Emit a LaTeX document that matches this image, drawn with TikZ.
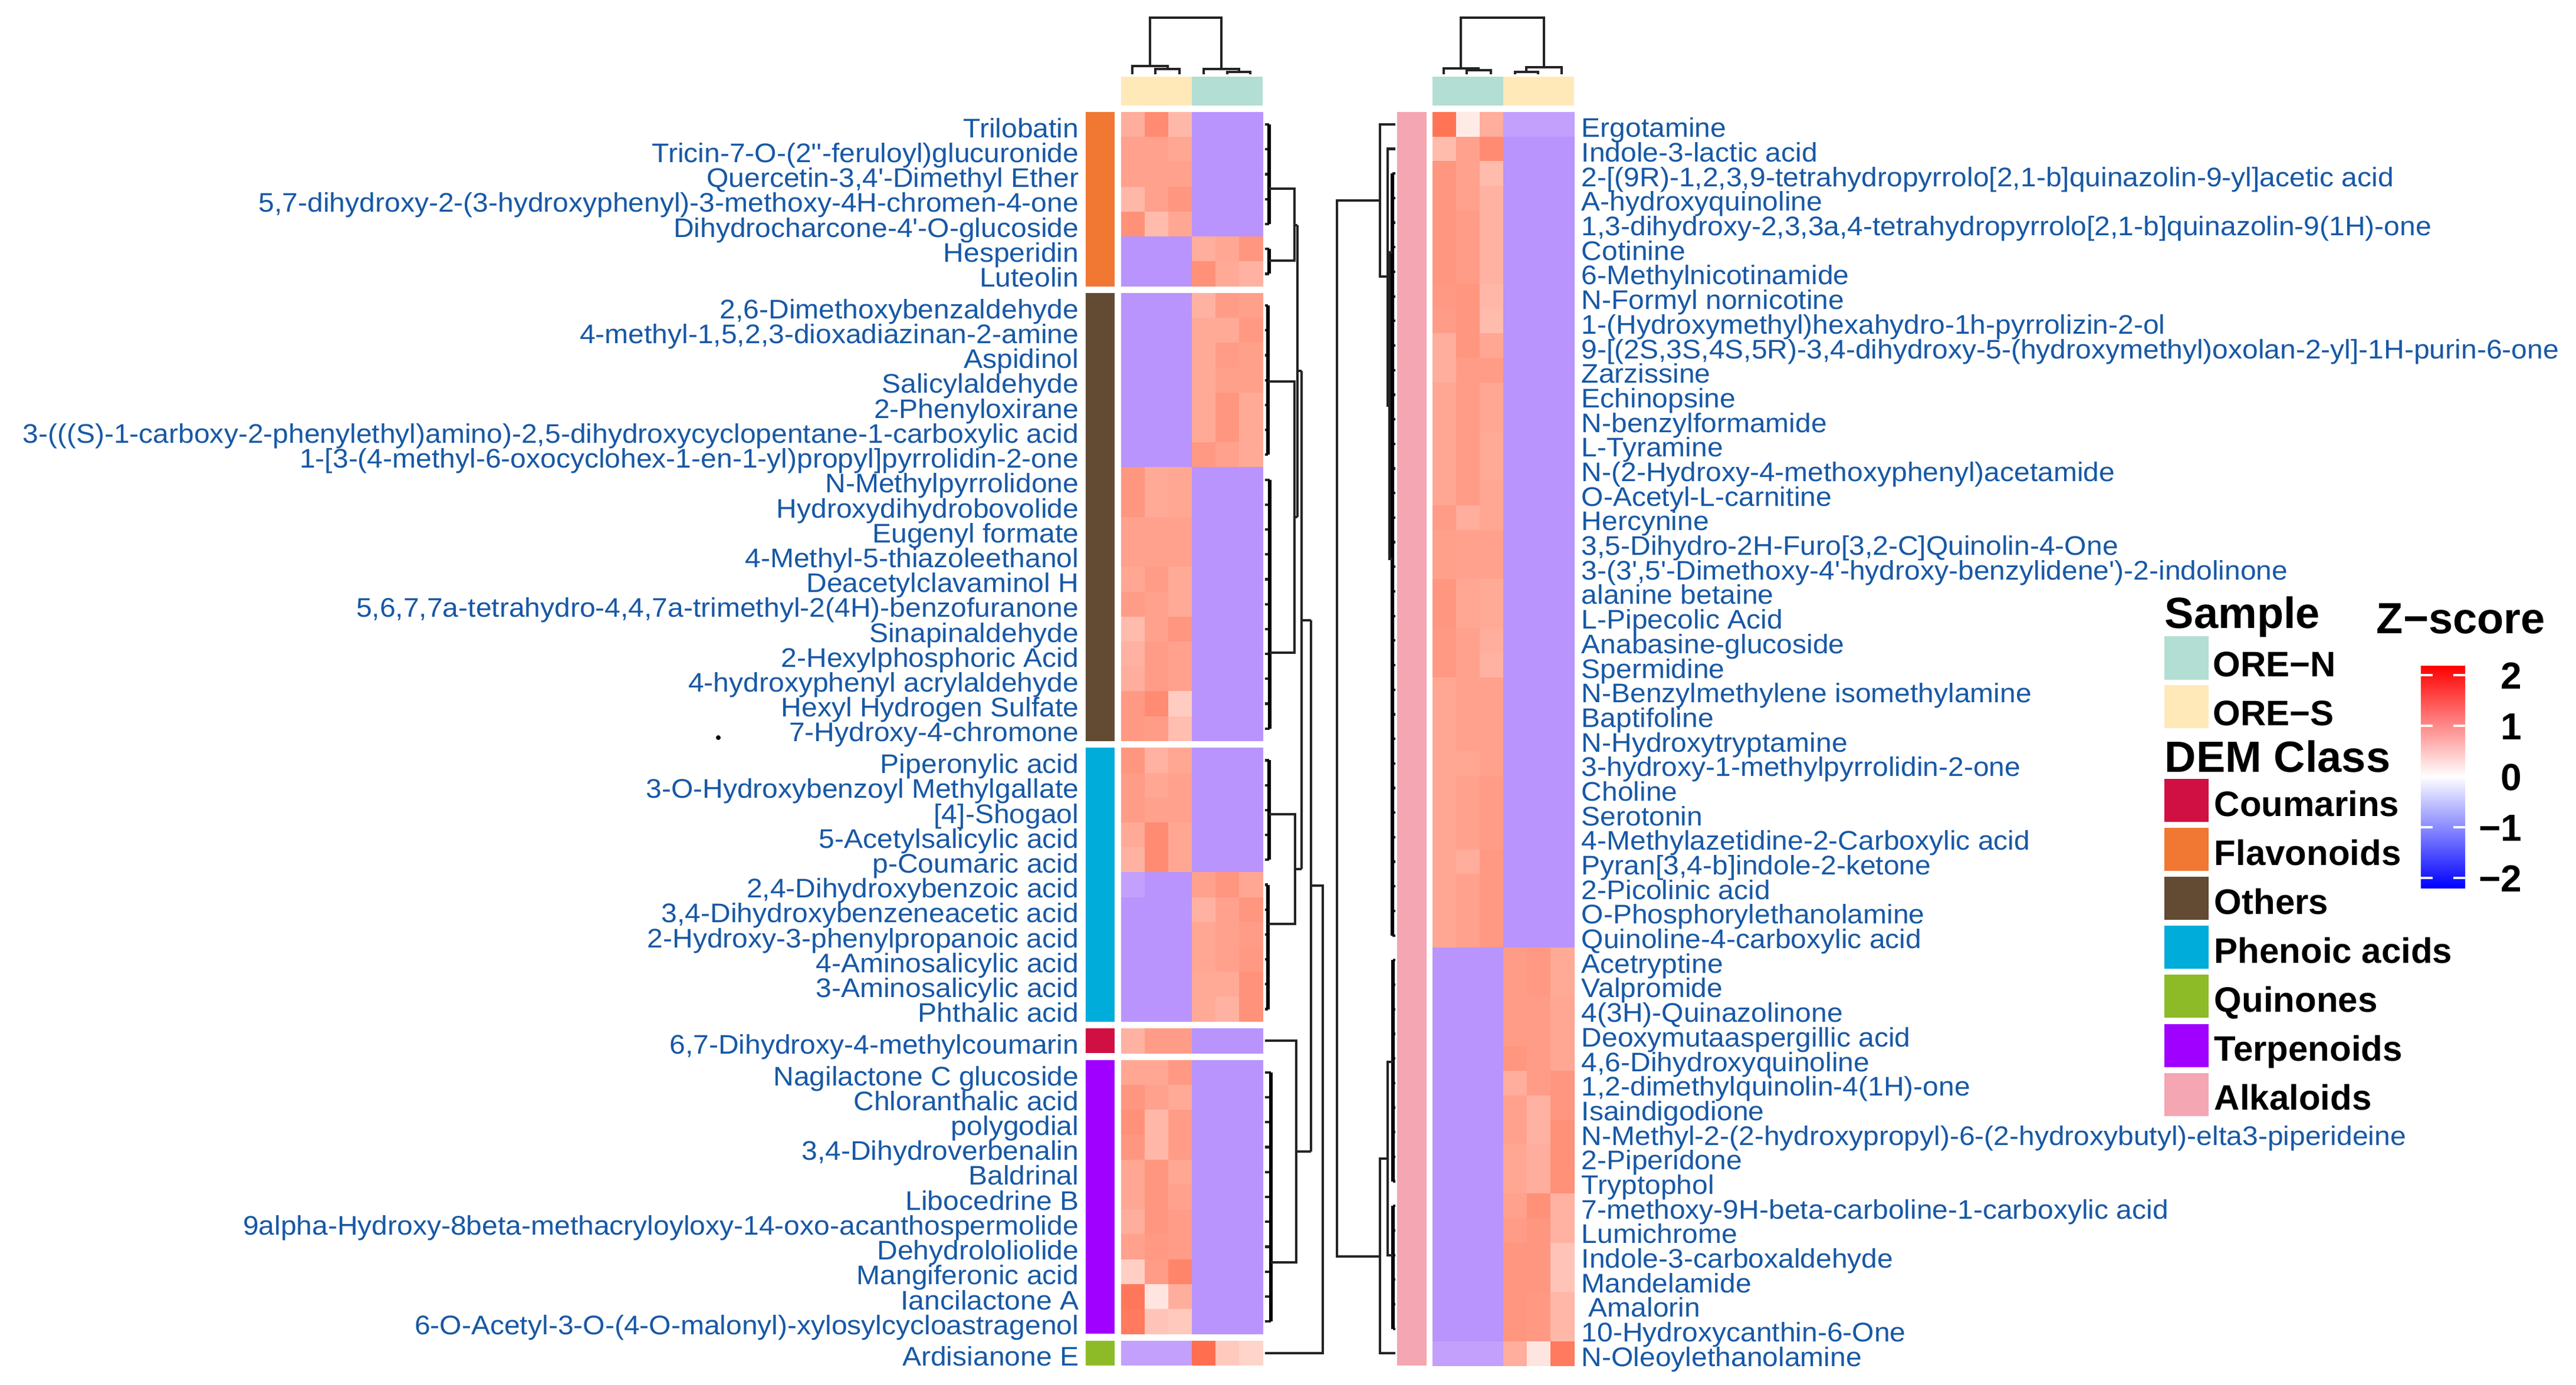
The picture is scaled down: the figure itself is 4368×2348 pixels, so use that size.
\documentclass[tikz,border=0pt]{standalone}
\usepackage{fontspec}
\setmainfont{Liberation Sans}
\newfontfamily\lf{Liberation Sans}
\newfontfamily\lfs{Liberation Sans}[FakeStretch=1.053]
\definecolor{hot}{RGB}{255,85,48}
\definecolor{lav}{RGB}{185,148,252}
\definecolor{lavl}{RGB}{194,160,252}
\definecolor{labc}{RGB}{23,88,165}
\definecolor{oren}{RGB}{179,222,211}
\definecolor{ores}{RGB}{255,233,185}
\definecolor{cCou}{RGB}{208,16,66}
\definecolor{cFla}{RGB}{240,120,51}
\definecolor{cOth}{RGB}{99,74,51}
\definecolor{cPhe}{RGB}{0,172,217}
\definecolor{cQui}{RGB}{141,187,40}
\definecolor{cTer}{RGB}{160,0,255}
\definecolor{cAlk}{RGB}{244,166,178}
\definecolor{dend}{RGB}{35,35,35}
\definecolor{zhi}{RGB}{255,128,98}
\definecolor{zlo}{RGB}{160,125,255}
\newcommand\hm[4]{%
  \ifdim #3pt<-1.5pt \fill[lavl] (#1,#2) rectangle ++(40.6,#4+0.6);%
  \else\ifdim #3pt<0pt \fill[lav] (#1,#2) rectangle ++(40.6,#4+0.6);%
  \else \fill[hot!#3!white] (#1,#2) rectangle ++(40.6,#4+0.6);\fi\fi}
% left group: #1 top y, #2 list
\newcommand\leftgroup[2]{%
  \foreach \lab/\a/\b/\c/\d/\e/\f [count=\i from 0] in {#2} {%
    \pgfmathsetmacro\yt{#1+\i*42.21}
    \hm{1901}{\yt}{\a}{42.21}\hm{1941}{\yt}{\b}{42.21}\hm{1981}{\yt}{\c}{42.21}
    \hm{2021}{\yt}{\d}{42.21}\hm{2061}{\yt}{\e}{42.21}\hm{2101}{\yt}{\f}{42.21}
    \node[lab, anchor=base east] (L\i) at (1830,\yt+43.3) {\lab};
  }}
% comb: #1 first centre, #2 count, #3 comb x, #4 leaf x, #5 spacing
\newcommand\comb[5]{%
  \foreach \q in {1,...,#2} {\draw[dg] (#4,{#1+(\q-1)*#5}) -- (#3,{#1+(\q-1)*#5});}
  \draw[dgc] (#3,#1) -- (#3,{#1+(#2-1)*#5});}
\begin{document}
\begin{tikzpicture}[x=0.25pt,y=-0.25pt,
  lab/.style={font=\lfs\fontsize{11.4}{11.4}\selectfont, text=labc, inner sep=0pt},
  legt/.style={font=\lf\bfseries\fontsize{18.5}{18.5}\selectfont, inner sep=0pt, anchor=base west},
  legi/.style={font=\lf\bfseries\fontsize{15}{15}\selectfont, inner sep=0pt, anchor=base west},
  tickl/.style={font=\lf\bfseries\fontsize{16}{16}\selectfont, inner sep=0pt, anchor=base east},
  dg/.style={draw=dend, line width=1.05pt},
  dgc/.style={draw=black, line width=1.6pt}]
\useasboundingbox (0,0) rectangle (4368,2348);
\fill[white] (0,0) rectangle (4368,2348);

% ---------------- left heatmap ----------------
\leftgroup{190}{%
{Trilobatin}/48/68/42/-1/-1/-1,
{Tricin-7-O-(2''-feruloyl)glucuronide}/55/55/52/-1/-1/-1,
{Quercetin-3,4'-Dimethyl Ether}/55/55/55/-1/-1/-1,
{5,7-dihydroxy-2-(3-hydroxyphenyl)-3-methoxy-4H-chromen-4-one}/42/55/62/-1/-1/-1,
{Dihydrocharcone-4'-O-glucoside}/65/40/52/-1/-1/-1,
{Hesperidin}/-1/-1/-1/48/52/62,
{Luteolin}/-1/-1/-1/65/50/45}
\leftgroup{497.0}{%
{2,6-Dimethoxybenzaldehyde}/-1/-1/-1/45/58/56,
{4-methyl-1,5,2,3-dioxadiazinan-2-amine}/-1/-1/-1/50/50/60,
{Aspidinol}/-1/-1/-1/50/58/56,
{Salicylaldehyde}/-1/-1/-1/50/56/56,
{2-Phenyloxirane}/-1/-1/-1/50/62/50,
{3-(((S)-1-carboxy-2-phenylethyl)amino)-2,5-dihydroxycyclopentane-1-carboxylic acid}/-1/-1/-1/50/62/50,
{1-[3-(4-methyl-6-oxocyclohex-1-en-1-yl)propyl]pyrrolidin-2-one}/-1/-1/-1/60/55/50,
{N-Methylpyrrolidone}/62/50/52/-1/-1/-1,
{Hydroxydihydrobovolide}/62/50/52/-1/-1/-1,
{Eugenyl formate}/55/55/55/-1/-1/-1,
{4-Methyl-5-thiazoleethanol}/55/55/55/-1/-1/-1,
{Deacetylclavaminol H}/52/58/50/-1/-1/-1,
{5,6,7,7a-tetrahydro-4,4,7a-trimethyl-2(4H)-benzofuranone}/58/55/50/-1/-1/-1,
{Sinapinaldehyde}/40/55/62/-1/-1/-1,
{2-Hexylphosphoric Acid}/45/58/55/-1/-1/-1,
{4-hydroxyphenyl acrylaldehyde}/48/58/55/-1/-1/-1,
{Hexyl Hydrogen Sulfate}/60/68/30/-1/-1/-1,
{7-Hydroxy-4-chromone}/60/58/38/-1/-1/-1}
\leftgroup{1268.3}{%
{Piperonylic acid}/62/45/52/-1/-1/-1,
{3-O-Hydroxybenzoyl Methylgallate}/58/52/55/-1/-1/-1,
{[4]-Shogaol}/58/55/55/-1/-1/-1,
{5-Acetylsalicylic acid}/50/68/52/-1/-1/-1,
{p-Coumaric acid}/45/68/52/-1/-1/-1,
{2,4-Dihydroxybenzoic acid}/-2/-1/-1/55/62/52,
{3,4-Dihydroxybenzeneacetic acid}/-1/-1/-1/45/55/62,
{2-Hydroxy-3-phenylpropanoic acid}/-1/-1/-1/52/55/58,
{4-Aminosalicylic acid}/-1/-1/-1/52/55/60,
{3-Aminosalicylic acid}/-1/-1/-1/50/50/64,
{Phthalic acid}/-1/-1/-1/50/45/64}
\leftgroup{1744.1}{%
{6,7-Dihydroxy-4-methylcoumarin}/45/58/58/-1/-1/-1}
\leftgroup{1797.8}{%
{Nagilactone C glucoside}/52/52/60/-1/-1/-1,
{Chloranthalic acid}/62/55/50/-1/-1/-1,
{polygodial}/65/42/58/-1/-1/-1,
{3,4-Dihydroverbenalin}/62/42/58/-1/-1/-1,
{Baldrinal}/52/62/52/-1/-1/-1,
{Libocedrine B}/52/62/55/-1/-1/-1,
{9alpha-Hydroxy-8beta-methacryloyloxy-14-oxo-acanthospermolide}/48/62/58/-1/-1/-1,
{Dehydrololiolide}/55/60/58/-1/-1/-1,
{Mangiferonic acid}/28/58/72/-1/-1/-1,
{Iancilactone A}/80/15/48/-1/-1/-1,
{6-O-Acetyl-3-O-(4-O-malonyl)-xylosylcycloastragenol}/78/35/32/-1/-1/-1}
\leftgroup{2273.6}{%
{Ardisianone E}/-2/-2/-2/85/32/25}

% left class bar
\fill[cFla] (1841,190) rectangle (1890,485.5);
\fill[cOth] (1841,497.0) rectangle (1890,1256.8);
\fill[cPhe] (1841,1268.3) rectangle (1890,1732.6);
\fill[cCou] (1841,1744.1) rectangle (1890,1786.3);
\fill[cTer] (1841,1797.8) rectangle (1890,2262.1);
\fill[cQui] (1841,2273.6) rectangle (1890,2315.8);
% stray dot
\fill (1218,1251) circle (1pt);

% left sample bar
\fill[ores] (1901,130) rectangle (2021,179);
\fill[oren] (2021,130) rectangle (2141,179);

% left column dendrogram
\draw[dg] (1950,112) -- (1950,30) -- (2071,30) -- (2071,117);
\draw[dg] (1920,126) -- (1920,112) -- (1980,112) -- (1980,117);
\draw[dg] (1959,126) -- (1959,117) -- (2000,117) -- (2000,126);
\draw[dg] (2041,126) -- (2041,117) -- (2101,117) -- (2101,122);
\draw[dg] (2081,126) -- (2081,122) -- (2120,122) -- (2120,126);

% left row dendrogram
\comb{211.1}{5}{2152}{2145}{42.21}
\comb{422.2}{2}{2152}{2145}{42.21}
\comb{518.1}{7}{2150}{2145}{42.21}
\comb{813.6}{11}{2153}{2145}{42.21}
\comb{1289.4}{5}{2152}{2145}{42.21}
\comb{1500.5}{6}{2150}{2145}{42.21}
\comb{1818.9}{11}{2155}{2145}{42.21}
\draw[dg] (2152,320) -- (2195,320) -- (2195,442) -- (2152,442);
\draw[dg] (2195,382) -- (2200,382);
\draw[dg] (2150,647) -- (2195,647) -- (2195,1107) -- (2153,1107);
\draw[dg] (2195,877) -- (2200,877);
\draw[dg] (2200,382) -- (2200,877);
\draw[dg] (2200,629) -- (2207,629);
\draw[dg] (2152,1381) -- (2196,1381) -- (2196,1567) -- (2150,1567);
\draw[dg] (2196,1474) -- (2207,1474);
\draw[dg] (2207,629) -- (2207,1474);
\draw[dg] (2207,1052) -- (2223,1052);
\draw[dg] (2145,1765.2) -- (2198,1765.2) -- (2198,2141) -- (2155,2141);
\draw[dg] (2198,1953) -- (2223,1953);
\draw[dg] (2223,1052) -- (2223,1953);
\draw[dg] (2223,1502) -- (2243,1502) -- (2243,2294.7) -- (2145,2294.7);

% ---------------- right heatmap ----------------
\foreach \lab/\a/\b/\c/\d/\e/\f [count=\i from 0] in {%
{Ergotamine}/82/12/48/-2/-2/-2,
{Indole-3-lactic acid}/40/55/68/-1/-1/-1,
{2-[(9R)-1,2,3,9-tetrahydropyrrolo[2,1-b]quinazolin-9-yl]acetic acid}/62/55/40/-1/-1/-1,
{A-hydroxyquinoline}/62/55/45/-1/-1/-1,
{1,3-dihydroxy-2,3,3a,4-tetrahydropyrrolo[2,1-b]quinazolin-9(1H)-one}/62/58/45/-1/-1/-1,
{Cotinine}/62/58/45/-1/-1/-1,
{6-Methylnicotinamide}/62/58/45/-1/-1/-1,
{N-Formyl nornicotine}/60/62/42/-1/-1/-1,
{1-(Hydroxymethyl)hexahydro-1h-pyrrolizin-2-ol}/58/62/40/-1/-1/-1,
{9-[(2S,3S,4S,5R)-3,4-dihydroxy-5-(hydroxymethyl)oxolan-2-yl]-1H-purin-6-one}/48/62/52/-1/-1/-1,
{Zarzissine}/48/58/58/-1/-1/-1,
{Echinopsine}/52/58/52/-1/-1/-1,
{N-benzylformamide}/52/58/52/-1/-1/-1,
{L-Tyramine}/52/58/50/-1/-1/-1,
{N-(2-Hydroxy-4-methoxyphenyl)acetamide}/52/58/50/-1/-1/-1,
{O-Acetyl-L-carnitine}/52/58/52/-1/-1/-1,
{Hercynine}/58/48/52/-1/-1/-1,
{3,5-Dihydro-2H-Furo[3,2-C]Quinolin-4-One}/56/55/55/-1/-1/-1,
{3-(3',5'-Dimethoxy-4'-hydroxy-benzylidene')-2-indolinone}/56/55/55/-1/-1/-1,
{alanine betaine}/62/52/50/-1/-1/-1,
{L-Pipecolic Acid}/62/52/50/-1/-1/-1,
{Anabasine-glucoside}/60/55/48/-1/-1/-1,
{Spermidine}/60/55/45/-1/-1/-1,
{N-Benzylmethylene isomethylamine}/52/55/55/-1/-1/-1,
{Baptifoline}/52/55/55/-1/-1/-1,
{N-Hydroxytryptamine}/52/55/55/-1/-1/-1,
{3-hydroxy-1-methylpyrrolidin-2-one}/52/52/55/-1/-1/-1,
{Choline}/52/55/58/-1/-1/-1,
{Serotonin}/52/55/58/-1/-1/-1,
{4-Methylazetidine-2-Carboxylic acid}/52/55/58/-1/-1/-1,
{Pyran[3,4-b]indole-2-ketone}/52/48/60/-1/-1/-1,
{2-Picolinic acid}/52/55/60/-1/-1/-1,
{O-Phosphorylethanolamine}/52/55/60/-1/-1/-1,
{Quinoline-4-carboxylic acid}/52/55/60/-1/-1/-1,
{Acetryptine}/-1/-1/-1/58/60/50,
{Valpromide}/-1/-1/-1/58/60/50,
{4(3H)-Quinazolinone}/-1/-1/-1/58/58/52,
{Deoxymutaaspergillic acid}/-1/-1/-1/58/58/52,
{4,6-Dihydroxyquinoline}/-1/-1/-1/62/58/52,
{1,2-dimethylquinolin-4(1H)-one}/-1/-1/-1/48/58/62,
{Isaindigodione}/-1/-1/-1/55/45/62,
{N-Methyl-2-(2-hydroxypropyl)-6-(2-hydroxybutyl)-elta3-piperideine}/-1/-1/-1/55/45/65,
{2-Piperidone}/-1/-1/-1/52/48/65,
{Tryptophol}/-1/-1/-1/52/48/65,
{7-methoxy-9H-beta-carboline-1-carboxylic acid}/-1/-1/-1/55/65/45,
{Lumichrome}/-1/-1/-1/58/62/45,
{Indole-3-carboxaldehyde}/-1/-1/-1/62/62/35,
{Mandelamide}/-1/-1/-1/62/62/35,
{\hspace{3pt}Amalorin}/-1/-1/-1/62/60/42,
{10-Hydroxycanthin-6-One}/-1/-1/-1/62/60/42,
{N-Oleoylethanolamine}/-2/-2/-2/48/15/78} {%
  \pgfmathsetmacro\yt{190+\i*41.69}
  \hm{2429}{\yt}{\a}{41.69}\hm{2469}{\yt}{\b}{41.69}\hm{2509}{\yt}{\c}{41.69}
  \hm{2549}{\yt}{\d}{41.69}\hm{2589}{\yt}{\e}{41.69}\hm{2629}{\yt}{\f}{41.69}
  \node[lab, anchor=base west] (R\i) at (2681,\yt+42.8) {\lab};
}
% right class bar
\fill[cAlk] (2369,190) rectangle (2419,2316);
% right sample bar
\fill[oren] (2429,130) rectangle (2549,179);
\fill[ores] (2549,130) rectangle (2669,179);

% right column dendrogram
\draw[dg] (2477,116) -- (2477,30) -- (2618,30) -- (2618,114);
\draw[dg] (2448,126) -- (2448,116) -- (2507,116) -- (2507,119);
\draw[dg] (2487,126) -- (2487,119) -- (2528,119) -- (2528,126);
\draw[dg] (2588,122) -- (2588,114) -- (2648,114) -- (2648,126);
\draw[dg] (2569,126) -- (2569,122) -- (2608,122) -- (2608,126);

% right row dendrogram
\comb{294.2}{32}{2361}{2366}{41.69}
\comb{1628.3}{10}{2362}{2366}{41.69}
\comb{2045.2}{6}{2362}{2366}{41.69}
\draw[dg] (2366,210.8) -- (2340,210.8) -- (2340,469) -- (2353,469);
\draw[dg] (2366,252.5) -- (2353,252.5) -- (2353,688) -- (2356,688);
\draw[dg] (2361,428) -- (2356,428) -- (2356,948) -- (2361,948);
\draw[dg] (2340,340) -- (2267,340) -- (2267,2131) -- (2340,2131);
\draw[dg] (2353,1965) -- (2340,1965) -- (2340,2295.2) -- (2366,2295.2);
\draw[dg] (2362,1801) -- (2353,1801) -- (2353,2129) -- (2362,2129);

% ---------------- legends ----------------
\node[legt] (ts) at (3670,1065) {Sample};
\fill[oren] (3670,1079) rectangle (3745,1153);
\node[legi] at (3752,1147) {ORE−N};
\fill[ores] (3670,1162) rectangle (3745,1235);
\node[legi] at (3752,1230) {ORE−S};
\node[legt] (td) at (3670,1309) {DEM Class};
\foreach \col/\nm [count=\j from 0] in {cCou/Coumarins,cFla/Flavonoids,cOth/Others,cPhe/Phenoic acids,cQui/Quinones,cTer/Terpenoids,cAlk/Alkaloids} {
  \pgfmathsetmacro\ty{1321+\j*83.1}
  \fill[\col] (3670,\ty) rectangle (3745,\ty+73);
  \node[legi] at (3754,\ty+63) {\nm};
}
\node[legt] (tz) at (4029,1074) {Z−score};
\shade[top color=red, middle color=zhi, bottom color=white] (4105,1129) rectangle (4180,1317.5);
\shade[top color=white, middle color=zlo, bottom color=blue] (4105,1316.5) rectangle (4180,1506);
\foreach \t/\v in {1145/2,1231/1,1317/0,1403/−1,1489/−2} {
  \draw[white, line width=0.8pt] (4105,\t) -- (4125,\t) (4160,\t) -- (4180,\t);
  \node[tickl] at (4277,\t+23) {\v};
}
\end{tikzpicture}
\end{document}
